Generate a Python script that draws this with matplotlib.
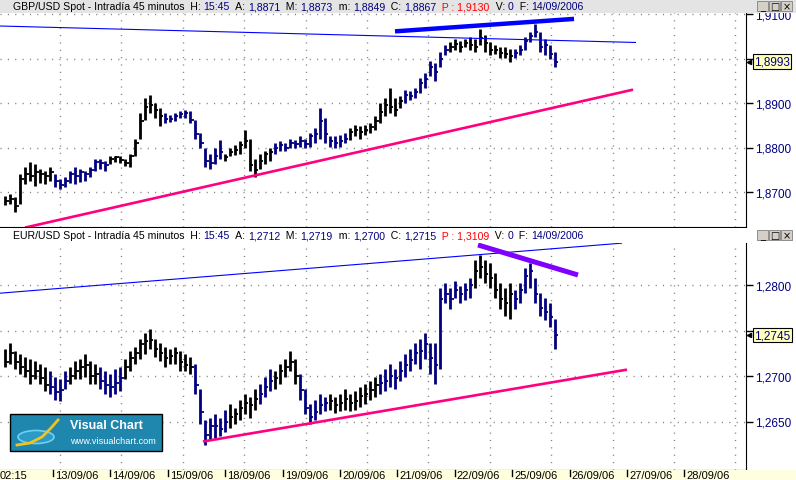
import numpy as np
import matplotlib
matplotlib.use('Agg')
import matplotlib.pyplot as plt
import matplotlib.transforms as mtrans
from matplotlib.patches import Rectangle, Ellipse

plt.rcParams['font.family'] = ['Liberation Sans', 'DejaVu Sans']

# ---- datos (precios en 1/10000) ----
gbp_high = [18690, 18695, 18688, 18740, 18757, 18768, 18763, 18752, 18748, 18757,
            18740, 18730, 18734, 18748, 18757, 18752, 18748, 18757, 18775, 18775,
            18770, 18780, 18782, 18780, 18775, 18786, 18820, 18877, 18911, 18918,
            18900, 18889, 18877, 18873, 18877, 18882, 18884, 18882, 18861, 18832,
            18798, 18786, 18798, 18816, 18786, 18798, 18805, 18814, 18839, 18820,
            18775, 18786, 18793, 18798, 18809, 18814, 18809, 18820, 18816, 18825,
            18820, 18832, 18843, 18889, 18866, 18825, 18825, 18827, 18832, 18843,
            18850, 18848, 18850, 18855, 18870, 18900, 18911, 18934, 18911, 18916,
            18930, 18927, 18934, 18957, 18968, 18995, 18991, 19014, 19030, 19036,
            19043, 19039, 19043, 19048, 19043, 19066, 19052, 19036, 19030, 19025,
            19025, 19021, 19021, 19030, 19048, 19059, 19077, 19059, 19043, 19030,
            19014]
gbp_low = [18670, 18672, 18655, 18672, 18718, 18725, 18714, 18720, 18718, 18725,
           18711, 18707, 18711, 18720, 18718, 18723, 18725, 18734, 18748, 18752,
           18748, 18764, 18768, 18766, 18759, 18757, 18780, 18820, 18861, 18877,
           18866, 18848, 18855, 18857, 18859, 18866, 18866, 18855, 18820, 18798,
           18757, 18752, 18764, 18775, 18770, 18780, 18784, 18786, 18798, 18748,
           18734, 18752, 18764, 18770, 18786, 18793, 18793, 18798, 18798, 18802,
           18798, 18802, 18809, 18820, 18809, 18802, 18798, 18802, 18809, 18816,
           18825, 18820, 18827, 18832, 18839, 18855, 18870, 18877, 18870, 18889,
           18900, 18907, 18911, 18923, 18934, 18961, 18950, 18980, 19007, 19014,
           19020, 19014, 19025, 19020, 19014, 19030, 19014, 19007, 19009, 19002,
           19002, 18993, 19002, 19007, 19020, 19036, 19048, 19014, 19007, 18998,
           18980]
gbp_close = [18680, 18685, 18668, 18730, 18740, 18735, 18745, 18740, 18735, 18745,
             18725, 18715, 18725, 18740, 18735, 18745, 18740, 18750, 18768, 18765,
             18760, 18775, 18778, 18772, 18765, 18780, 18810, 18860, 18890, 18895,
             18885, 18870, 18865, 18865, 18870, 18875, 18878, 18862, 18830, 18810,
             18770, 18765, 18780, 18790, 18778, 18790, 18795, 18805, 18815, 18760,
             18750, 18770, 18785, 18790, 18800, 18805, 18800, 18810, 18808, 18815,
             18808, 18825, 18830, 18860, 18830, 18815, 18810, 18815, 18820, 18835,
             18840, 18835, 18840, 18845, 18860, 18880, 18895, 18890, 18885, 18905,
             18918, 18915, 18925, 18945, 18955, 18980, 18970, 19000, 19020, 19025,
             19032, 19025, 19035, 19030, 19025, 19045, 19035, 19020, 19020, 19012,
             19010, 19005, 19012, 19020, 19040, 19050, 19060, 19025, 19030, 19010,
             18993]
gbp_runs = [(10, 'k'), (11, 'b'), (11, 'k'), (12, 'b'), (10, 'k'), (15, 'b'),
            (11, 'k'), (9, 'b'), (13, 'k'), (9, 'b')]

eur_high = [12730, 12736, 12728, 12724, 12721, 12719, 12717, 12713, 12710, 12706,
            12699, 12697, 12706, 12710, 12717, 12719, 12724, 12717, 12713, 12710,
            12706, 12702, 12708, 12710, 12719, 12728, 12732, 12741, 12747, 12752,
            12741, 12736, 12732, 12730, 12732, 12728, 12724, 12721, 12713, 12686,
            12652, 12654, 12658, 12654, 12663, 12669, 12665, 12674, 12680, 12677,
            12686, 12691, 12699, 12708, 12706, 12713, 12719, 12728, 12719, 12702,
            12686, 12669, 12674, 12680, 12677, 12680, 12677, 12680, 12686, 12680,
            12683, 12688, 12691, 12694, 12699, 12702, 12708, 12713, 12708, 12717,
            12724, 12730, 12736, 12741, 12747, 12736, 12736, 12797, 12802, 12797,
            12804, 12799, 12802, 12808, 12828, 12833, 12828, 12824, 12813, 12802,
            12797, 12802, 12794, 12802, 12819, 12824, 12808, 12791, 12786, 12780,
            12763]
eur_low = [12710, 12713, 12708, 12702, 12699, 12691, 12697, 12691, 12683, 12680,
           12674, 12672, 12686, 12691, 12697, 12697, 12699, 12691, 12691, 12686,
           12680, 12677, 12680, 12683, 12697, 12706, 12713, 12719, 12724, 12730,
           12721, 12717, 12710, 12713, 12713, 12706, 12706, 12702, 12680, 12647,
           12624, 12630, 12632, 12634, 12639, 12643, 12647, 12652, 12658, 12654,
           12663, 12669, 12677, 12683, 12686, 12691, 12699, 12706, 12691, 12674,
           12658, 12647, 12652, 12658, 12661, 12663, 12659, 12661, 12663, 12661,
           12663, 12666, 12669, 12674, 12677, 12680, 12683, 12688, 12686, 12694,
           12699, 12706, 12713, 12708, 12719, 12702, 12691, 12708, 12780, 12774,
           12786, 12780, 12783, 12786, 12797, 12808, 12802, 12797, 12786, 12774,
           12766, 12763, 12774, 12780, 12791, 12797, 12780, 12766, 12761, 12754,
           12730]
eur_close = [12715, 12725, 12715, 12710, 12705, 12700, 12705, 12698, 12690, 12688,
             12682, 12685, 12695, 12700, 12705, 12710, 12712, 12700, 12702, 12695,
             12690, 12688, 12692, 12698, 12710, 12720, 12725, 12735, 12738, 12740,
             12730, 12725, 12720, 12722, 12725, 12715, 12712, 12710, 12690, 12660,
             12635, 12645, 12645, 12642, 12650, 12655, 12658, 12665, 12670, 12668,
             12675, 12680, 12688, 12695, 12698, 12705, 12710, 12715, 12700, 12685,
             12665, 12655, 12660, 12668, 12670, 12672, 12668, 12670, 12675, 12670,
             12672, 12678, 12680, 12685, 12690, 12692, 12695, 12700, 12698, 12705,
             12712, 12718, 12725, 12728, 12735, 12720, 12712, 12785, 12790, 12785,
             12795, 12790, 12795, 12800, 12815, 12820, 12812, 12808, 12795, 12785,
             12780, 12790, 12785, 12795, 12810, 12815, 12790, 12775, 12770, 12765,
             12745]
eur_runs = [(9, 'k'), (4, 'b'), (6, 'k'), (5, 'b'), (14, 'k'), (7, 'b'), (6, 'k'),
            (3, 'b'), (5, 'k'), (6, 'b'), (10, 'k'), (19, 'b'), (8, 'k'), (9, 'b')]

# lineas de tendencia: (dia, precio) -> (dia, precio)
gbp_lines = [((0.077, 1.9073), (11.157, 1.9036), '#0000ff', 0.8),
             ((6.958, 1.9061), (10.077, 1.9089), '#0000ff', 3.2),
             ((0.512, 1.8620), (11.105, 1.8930), '#ff0080', 1.9)]
eur_lines = [((0.077, 1.2791), (10.913, 1.2846), '#0000ff', 0.8),
             ((8.404, 1.2844), (10.146, 1.2811), '#8000ff', 3.6),
             ((3.613, 1.2628), (11.000, 1.2707), '#ff0080', 1.9)]

gbp_ticks = [1.8700, 1.8800, 1.8900, 1.9000, 1.9100]
eur_ticks = [1.2650, 1.2700, 1.2750, 1.2800]
date_labels = ['13/09/06', '14/09/06', '15/09/06', '18/09/06', '19/09/06', '20/09/06',
               '21/09/06', '22/09/06', '25/09/06', '26/09/06', '27/09/06', '28/09/06']
first_label = '02:15'

gbp_header = [('GBP/USD Spot - Intradía 45 minutos  H: ', 'k'), ('15:45', 'b'),
              ('  A: ', 'k'), ('1,8871', 'b'), ('  M: ', 'k'), ('1,8873', 'b'),
              ('  m: ', 'k'), ('1,8849', 'b'), ('  C: ', 'k'), ('1,8867', 'b'),
              ('  P : 1,9130', 'r'), ('  V: ', 'k'), ('0', 'b'), ('  F: ', 'k'),
              ('14/09/2006', 'b')]
eur_header = [('EUR/USD Spot - Intradía 45 minutos  H: ', 'k'), ('15:45', 'b'),
              ('  A: ', 'k'), ('1,2712', 'b'), ('  M: ', 'k'), ('1,2719', 'b'),
              ('  m: ', 'k'), ('1,2700', 'b'), ('  C: ', 'k'), ('1,2715', 'b'),
              ('  P : 1,3109', 'r'), ('  V: ', 'k'), ('0', 'b'), ('  F: ', 'k'),
              ('14/09/2006', 'b')]

NAVY = '#000080'
COL = {'k': 'black', 'b': NAVY, 'r': '#ff0000'}
HEAD_FS = 7.6

W, H = 796, 481
def fx(px):
    return px / W
def fy(py):
    return 1 - py / H
def day(px):
    # 13/09 en px 53, 57.4 px por dia
    return 1 + (px - 53) / 57.4

fig = plt.figure(figsize=(7.96, 4.81), dpi=100)
fig.patch.set_facecolor('white')
renderer = fig.canvas.get_renderer()

ax1 = fig.add_axes([0, fy(228), fx(746), (228 - 14) / H])
ax2 = fig.add_axes([0, fy(471), fx(746), (471 - 244) / H])

x0, step = day(5), 5 / 57.4


def fmt(v):
    return f'{v:.4f}'.replace('.', ',')


def draw_panel(ax, hi, lo, cl, runs, lines, ticks, ylim):
    n = len(hi)
    xs = x0 + step * np.arange(n)
    cols = []
    for cnt, c in runs:
        cols += [COL[c]] * cnt
    hi = np.array(hi) / 1e4
    lo = np.array(lo) / 1e4
    cl = np.array(cl) / 1e4
    ax.vlines(xs, lo, hi, colors=cols, lw=2.0, zorder=3)
    ax.hlines(cl, xs, xs + step * 0.7, colors=cols, lw=1.3, zorder=3)
    for (xa, ya), (xb, yb), c, lw in lines:
        ax.plot([xa, xb], [ya, yb], color=c, lw=lw, zorder=4, solid_capstyle='butt')
    ax.set_xlim(day(0), day(746))
    ax.set_ylim(*ylim)
    ax.set_yticks(ticks)
    # la etiqueta que queda bajo la caja del ultimo precio no se ve
    span = ylim[1] - ylim[0]
    ax.set_yticklabels(['' if abs(t - cl[-1]) < span * 0.04 else fmt(t) for t in ticks])
    ax.yaxis.tick_right()
    ax.tick_params(axis='y', length=5, width=1, pad=1.5, labelsize=8.5,
                   labelcolor=NAVY, color='black')
    ax.set_xticks([])
    for s in ['left', 'top']:
        ax.spines[s].set_visible(False)
    ax.spines['right'].set_color('black')
    ax.spines['bottom'].set_color('black')
    for t in ticks:
        ax.axhline(t, color='#808080', lw=1, ls=(0, (0.8, 4.5)), zorder=1)
    for g in np.arange(day(60), day(746), 61.4 / 57.4):
        ax.axvline(g, color='#808080', lw=1, ls=(0, (0.8, 4.5)), zorder=1)
    # caja del ultimo precio
    tr = mtrans.blended_transform_factory(ax.transAxes, ax.transData)
    ax.annotate(fmt(cl[-1]), xy=(1, cl[-1]), xycoords=tr, xytext=(8, 0),
                textcoords='offset pixels', va='center', ha='left', fontsize=8.5,
                color=NAVY, annotation_clip=False, zorder=6,
                bbox=dict(boxstyle='square,pad=0.12', fc='#ffffc0', ec='black', lw=0.8))
    ax.plot([1.004], [cl[-1]], marker='<', ms=3, color='black', transform=tr,
            clip_on=False, zorder=6)


draw_panel(ax1, gbp_high, gbp_low, gbp_close, gbp_runs, gbp_lines, gbp_ticks,
           (1.87 - 35 / 4450, 1.87 + 179 / 4450))
draw_panel(ax2, eur_high, eur_low, eur_close, eur_runs, eur_lines, eur_ticks,
           (1.265 - 48.5 / 9100, 1.265 + 178.5 / 9100))


def text_w(s, size):
    t = fig.text(0, 0, s + '|', fontsize=size)
    w = t.get_window_extent(renderer).width
    t.remove()
    t = fig.text(0, 0, '|', fontsize=size)
    w -= t.get_window_extent(renderer).width
    t.remove()
    return w


# cabeceras
def header(ytop, pieces, bg):
    fig.patches.append(Rectangle((0, fy(ytop + 14)), 1, 14 / H, transform=fig.transFigure,
                                 fc=bg, ec='none', zorder=2))
    prefix = ''
    for s, c in pieces:
        xp = 13 + text_w(prefix, HEAD_FS) if prefix else 13
        fig.text(fx(xp), fy(ytop + 7.5), s, color=COL[c], fontsize=HEAD_FS,
                 va='center', ha='left', zorder=3)
        prefix += s
    # botones de ventana
    for i, g in enumerate(['_', '\u25a1', '\u00d7']):
        bx = 757 + i * 12
        fig.patches.append(Rectangle((fx(bx), fy(ytop + 12)), 11 / W, 10 / H,
                                     transform=fig.transFigure, fc='#d4d0c8',
                                     ec='#808080', lw=0.6, zorder=3))
        fig.text(fx(bx + 5.5), fy(ytop + 7), g, fontsize=7, ha='center', va='center',
                 zorder=4, family=['DejaVu Sans'])

header(0, gbp_header, '#e4e4e4')
header(229, eur_header, 'white')

# eje de fechas
fig.patches.append(Rectangle((0, 0), 1, fy(471), transform=fig.transFigure,
                             fc='#ffffe0', ec='none', zorder=0))
fig.text(0, fy(476), first_label, fontsize=8, ha='left', va='center', zorder=3)
trx = mtrans.blended_transform_factory(ax2.transData, fig.transFigure)
for i, lab in enumerate(date_labels):
    d = i + 1
    fig.lines.append(plt.Line2D([d, d], [fy(471), fy(477)], color='black', lw=1,
                                transform=trx, zorder=3))
    fig.text(d, fy(476), lab, fontsize=8, ha='left', va='center', zorder=3,
             transform=trx + mtrans.Affine2D().translate(2, 0))

# logo Visual Chart
fig.patches.append(Rectangle((fx(10), fy(452)), 152 / W, 37 / H, transform=fig.transFigure,
                             fc='#1f86ad', ec='black', lw=1, zorder=5))
fig.patches.append(Ellipse((fx(36), fy(438)), 36 / W, 13 / H, transform=fig.transFigure,
                           fc='#2a9ac6', ec='#6fd0f2', lw=1.2, zorder=6))
sw = [(17, 446), (30, 444), (42, 438), (51, 429), (58, 421)]
fig.lines.append(plt.Line2D([fx(a) for a, b in sw], [fy(b) for a, b in sw],
                            transform=fig.transFigure, color='#f3c21b', lw=2, zorder=7))
fig.text(fx(70), fy(426), 'Visual Chart', color='white', fontsize=9, fontweight='bold',
         ha='left', va='center', zorder=7)
fig.text(fx(70), fy(442), 'www.visualchart.com', color='white', fontsize=6.6,
         ha='left', va='center', zorder=7)

fig.savefig('out.png', dpi=100)
